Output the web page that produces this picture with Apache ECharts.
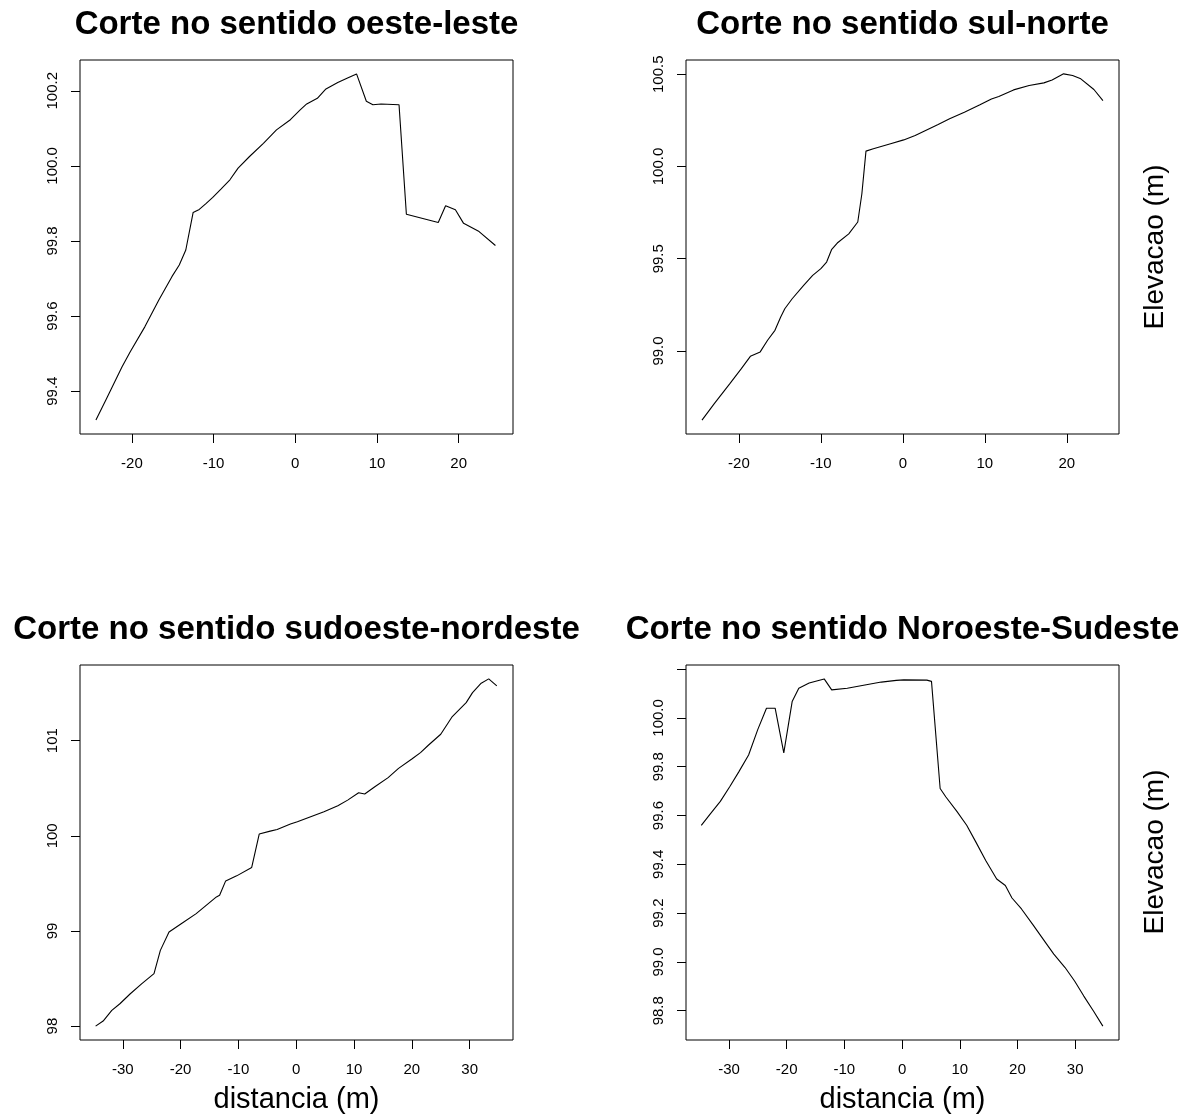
<!DOCTYPE html>
<html>
<head>
<meta charset="utf-8">
<script src="https://cdn.jsdelivr.net/npm/echarts@6/dist/echarts.min.js"></script>
<style>
  html, body { margin: 0; padding: 0; background: #fff; }
  #chart { width: 1195px; height: 1119px; }
</style>
</head>
<body>
<div id="chart"></div>
<script>
// Elevation profiles (distance in m, elevation in m) along four cut directions.

// Corte oeste-leste
const distOesteLeste = [-24.4, -23.2, -21.2, -20.2, -18.4, -16.7, -15.1, -14.2, -13.4, -12.5, -11.75, -10.9, -10.1, -9.1, -8.0, -7.0, -5.6, -3.9, -2.3, -0.6, 0.6, 1.4, 2.7, 3.7, 5.2, 6.4, 7.5, 8.7, 9.5, 10.5, 12.7, 13.6, 17.5, 18.4, 19.6, 20.6, 22.5, 24.5];
const elevOesteLeste = [99.323, 99.376, 99.465, 99.505, 99.572, 99.643, 99.705, 99.736, 99.776, 99.876, 99.884, 99.900, 99.916, 99.938, 99.963, 99.994, 100.025, 100.060, 100.096, 100.123, 100.149, 100.165, 100.180, 100.204, 100.222, 100.234, 100.245, 100.172, 100.163, 100.165, 100.163, 99.871, 99.849, 99.894, 99.883, 99.847, 99.825, 99.788];

// Corte sul-norte
const distSulNorte = [-24.5, -23.0, -21.1, -19.7, -18.6, -17.4, -16.5, -15.6, -14.9, -14.4, -13.5, -12.1, -11.0, -10.0, -9.3, -8.7, -8.0, -6.6, -5.5, -5.0, -4.5, -3.6, -1.5, 0.1, 1.5, 4.3, 5.7, 7.5, 9.4, 10.8, 11.7, 13.5, 15.4, 17.2, 18.2, 19.6, 20.7, 21.7, 23.3, 24.4];
const elevSulNorte = [98.625, 98.715, 98.823, 98.904, 98.971, 98.995, 99.058, 99.112, 99.184, 99.229, 99.283, 99.356, 99.410, 99.446, 99.482, 99.549, 99.585, 99.635, 99.699, 99.852, 100.083, 100.096, 100.123, 100.144, 100.168, 100.227, 100.258, 100.294, 100.334, 100.366, 100.379, 100.415, 100.439, 100.453, 100.469, 100.502, 100.493, 100.475, 100.417, 100.357];

// Corte sudoeste-nordeste
const distSudoesteNordeste = [-34.7, -33.4, -31.9, -30.5, -28.7, -26.7, -24.6, -23.5, -22.0, -19.7, -17.3, -13.8, -13.25, -12.2, -10.3, -7.7, -6.4, -4.5, -3.3, -1.0, 0.2, 2.5, 4.8, 7.2, 8.9, 10.8, 11.85, 13.6, 15.9, 17.7, 20.0, 21.5, 22.9, 25.0, 27.0, 29.4, 30.5, 32.0, 33.3, 34.7];
const elevSudoesteNordeste = [98.0, 98.053, 98.165, 98.235, 98.340, 98.446, 98.551, 98.796, 98.989, 99.084, 99.182, 99.358, 99.375, 99.526, 99.579, 99.667, 100.018, 100.049, 100.067, 100.123, 100.147, 100.200, 100.253, 100.316, 100.375, 100.453, 100.439, 100.516, 100.611, 100.709, 100.807, 100.874, 100.954, 101.067, 101.253, 101.400, 101.505, 101.604, 101.649, 101.575];

// Corte Noroeste-Sudeste
const distNoroesteSudeste = [-34.8, -33.2, -31.5, -29.9, -28.3, -26.6, -25.0, -23.5, -22.0, -20.5, -19.05, -17.9, -16.1, -13.5, -12.2, -9.5, -6.2, -3.6, -1.0, 0.3, 4.3, 5.1, 6.6, 7.6, 9.5, 11.2, 12.8, 14.5, 16.4, 17.9, 19.05, 20.7, 22.7, 25.0, 26.3, 28.25, 29.9, 31.5, 33.2, 34.8];
const elevNoroesteSudeste = [99.560, 99.608, 99.658, 99.717, 99.779, 99.848, 99.953, 100.040, 100.040, 99.857, 100.067, 100.122, 100.143, 100.160, 100.115, 100.122, 100.136, 100.147, 100.154, 100.156, 100.155, 100.150, 99.711, 99.676, 99.617, 99.560, 99.491, 99.416, 99.340, 99.313, 99.262, 99.217, 99.152, 99.075, 99.032, 98.977, 98.922, 98.860, 98.798, 98.737];

// Titles and tick positions
const panelTitles = ['Corte no sentido oeste-leste', 'Corte no sentido sul-norte', 'Corte no sentido sudoeste-nordeste', 'Corte no sentido Noroeste-Sudeste'];
const xTicksShort = [-20, -10, 0, 10, 20];
const xTicksLong = [-30, -20, -10, 0, 10, 20, 30];
const yTicksOesteLeste = [99.4, 99.6, 99.8, 100.0, 100.2];
const yTicksSulNorte = [99.0, 99.5, 100.0, 100.5];
const yTicksSudoesteNordeste = [98, 99, 100, 101];
const yTicksNoroesteSudeste = [98.8, 99.0, 99.2, 99.4, 99.6, 99.8, 100.0, 100.2];
const yLabelsNoroesteSudeste = [98.8, 99.0, 99.2, 99.4, 99.6, 99.8, 100.0];
const xAxisTitle = 'distancia (m)';
const yAxisTitle = 'Elevacao (m)';

const FONT = "'Liberation Sans', Arial, sans-serif";

function pairs(xs, ys) { return xs.map((x, i) => [x, ys[i]]); }

const panels = [
  { left: 80, top: 60, height: 374, xr: [-26.35, 26.65], yr: [99.286, 100.282], xt: xTicksShort, yt: yTicksOesteLeste, yl: yTicksOesteLeste, dec: 1, data: pairs(distOesteLeste, elevOesteLeste), xName: false },
  { left: 686, top: 60, height: 374, xr: [-26.45, 26.36], yr: [98.55, 100.577], xt: xTicksShort, yt: yTicksSulNorte, yl: yTicksSulNorte, dec: 1, data: pairs(distSulNorte, elevSulNorte), xName: false },
  { left: 80, top: 665, height: 375, xr: [-37.4, 37.5], yr: [97.854, 101.795], xt: xTicksLong, yt: yTicksSudoesteNordeste, yl: yTicksSudoesteNordeste, dec: 0, data: pairs(distSudoesteNordeste, elevSudoesteNordeste), xName: true },
  { left: 686, top: 665, height: 375, xr: [-37.45, 37.6], yr: [98.68, 100.217], xt: xTicksLong, yt: yTicksNoroesteSudeste, yl: yLabelsNoroesteSudeste, dec: 1, data: pairs(distNoroesteSudeste, elevNoroesteSudeste), xName: true }
];
const WIDTH = 433;

const option = {
  animation: false,
  backgroundColor: '#ffffff',
  title: panels.map((p, i) => ({
    text: panelTitles[i],
    left: p.left + WIDTH / 2,
    top: p.top - 52,
    padding: 0,
    textAlign: 'center',
    textStyle: { fontFamily: FONT, fontWeight: 'bold', fontSize: 33, color: '#000' }
  })),
  grid: panels.map(p => ({
    left: p.left, top: p.top, width: WIDTH, height: p.height,
    show: true, borderColor: '#000', borderWidth: 1, backgroundColor: 'transparent',
    containLabel: false, outerBoundsMode: 'none'
  })),
  xAxis: panels.map((p, i) => ({
    type: 'value', gridIndex: i, min: p.xr[0], max: p.xr[1],
    splitLine: { show: false }, axisLine: { show: false, onZero: false },
    axisTick: { show: true, length: 9, lineStyle: { color: '#000', width: 1 }, customValues: p.xt },
    axisLabel: { show: true, customValues: p.xt, margin: 22, fontFamily: FONT, fontSize: 15, color: '#000' },
    name: p.xName ? xAxisTitle : '', nameLocation: 'middle', nameGap: 45,
    nameTextStyle: { fontFamily: FONT, fontSize: 29, color: '#000' }
  })),
  yAxis: panels.map((p, i) => ({
    type: 'value', gridIndex: i, min: p.yr[0], max: p.yr[1],
    splitLine: { show: false }, axisLine: { show: false, onZero: false },
    axisTick: { show: true, length: 9, lineStyle: { color: '#000', width: 1 }, customValues: p.yt },
    axisLabel: {
      show: true, customValues: p.yl, rotate: 90, margin: 20,
      fontFamily: FONT, fontSize: 15, color: '#000',
      formatter: v => Number(v).toFixed(p.dec)
    }
  })),
  series: panels.map((p, i) => ({
    type: 'line', xAxisIndex: i, yAxisIndex: i, data: p.data,
    showSymbol: false, symbol: 'none', silent: true,
    lineStyle: { color: '#000', width: 1.1 }
  })),
  graphic: [
    { type: 'text', x: 1155, y: 247, rotation: Math.PI / 2,
      style: { text: yAxisTitle, fontFamily: FONT, fontSize: 28, fill: '#000', align: 'center', verticalAlign: 'middle' } },
    { type: 'text', x: 1155, y: 852, rotation: Math.PI / 2,
      style: { text: yAxisTitle, fontFamily: FONT, fontSize: 28, fill: '#000', align: 'center', verticalAlign: 'middle' } }
  ]
};

const chart = echarts.init(document.getElementById('chart'), null, { renderer: 'canvas' });
chart.setOption(option);
</script>
</body>
</html>
